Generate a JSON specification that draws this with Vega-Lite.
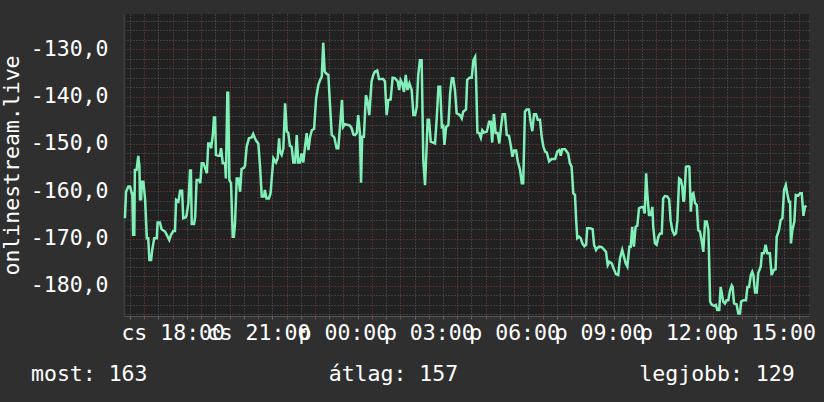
{
  "$schema": "https://vega.github.io/schema/vega-lite/v6.json",
  "width": 685,
  "height": 302,
  "autosize": {"type": "none"},
  "padding": {"left": 124, "top": 14, "right": 15, "bottom": 86},
  "background": "#2f2f2f",
  "view": {"fill": "#212121", "stroke": null},
  "config": {"font": "DejaVu Sans Mono"},
  "title": {
    "text": "most: 163\u00a0\u00a0\u00a0\u00a0\u00a0\u00a0\u00a0\u00a0\u00a0\u00a0\u00a0\u00a0\u00a0\u00a0átlag: 157\u00a0\u00a0\u00a0\u00a0\u00a0\u00a0\u00a0\u00a0\u00a0\u00a0\u00a0\u00a0\u00a0\u00a0legjobb: 129",
    "orient": "bottom",
    "anchor": "start",
    "frame": "group",
    "baseline": "top",
    "offset": 20,
    "dx": -93,
    "font": "DejaVu Sans Mono",
    "fontSize": 21.5,
    "fontWeight": "normal",
    "color": "#ffffff"
  },
  "data": {"values": [
    {"h":16.32,"v":-165.7},{"h":16.36,"v":-160.1},{"h":16.44,"v":-159.0},{"h":16.50,"v":-159.0},{"h":16.56,"v":-160.4},{"h":16.58,"v":-160.4},{"h":16.61,"v":-169.2},{"h":16.65,"v":-169.2},{"h":16.67,"v":-155.5},{"h":16.73,"v":-155.5},
    {"h":16.79,"v":-152.5},{"h":16.83,"v":-154.8},{"h":16.85,"v":-161.7},{"h":16.89,"v":-161.7},{"h":16.91,"v":-158.0},{"h":16.97,"v":-158.0},{"h":17.03,"v":-161.7},{"h":17.09,"v":-169.9},{"h":17.14,"v":-169.9},{"h":17.18,"v":-174.5},
    {"h":17.24,"v":-174.5},{"h":17.28,"v":-172.4},{"h":17.35,"v":-169.9},{"h":17.44,"v":-169.9},{"h":17.47,"v":-166.6},{"h":17.55,"v":-166.6},{"h":17.61,"v":-168.0},{"h":17.73,"v":-168.5},{"h":17.79,"v":-169.2},{"h":17.88,"v":-170.3},
    {"h":17.94,"v":-169.2},{"h":18.02,"v":-168.4},{"h":18.08,"v":-168.4},{"h":18.12,"v":-161.8},{"h":18.20,"v":-162.2},{"h":18.26,"v":-159.9},{"h":18.33,"v":-159.9},{"h":18.37,"v":-165.7},{"h":18.46,"v":-165.5},{"h":18.49,"v":-165.0},
    {"h":18.55,"v":-162.5},{"h":18.61,"v":-155.6},{"h":18.64,"v":-155.6},{"h":18.67,"v":-166.9},{"h":18.75,"v":-166.9},{"h":18.79,"v":-165.4},{"h":18.84,"v":-157.6},{"h":18.93,"v":-157.6},{"h":18.97,"v":-158.3},{"h":19.02,"v":-154.1},
    {"h":19.08,"v":-154.1},{"h":19.14,"v":-155.1},{"h":19.20,"v":-156.2},{"h":19.25,"v":-149.9},{"h":19.31,"v":-149.9},{"h":19.35,"v":-150.9},{"h":19.41,"v":-148.1},{"h":19.45,"v":-144.4},{"h":19.49,"v":-144.4},{"h":19.52,"v":-152.3},
    {"h":19.60,"v":-152.5},{"h":19.66,"v":-152.5},{"h":19.70,"v":-150.9},{"h":19.76,"v":-154.1},{"h":19.84,"v":-154.1},{"h":19.87,"v":-157.3},{"h":19.92,"v":-139.2},{"h":19.95,"v":-139.2},{"h":19.99,"v":-157.6},{"h":20.05,"v":-158.3},
    {"h":20.11,"v":-169.6},{"h":20.15,"v":-169.6},{"h":20.19,"v":-166.8},{"h":20.25,"v":-157.3},{"h":20.31,"v":-157.3},{"h":20.37,"v":-160.1},{"h":20.42,"v":-155.3},{"h":20.51,"v":-155.0},{"h":20.54,"v":-154.6},{"h":20.60,"v":-150.6},
    {"h":20.68,"v":-148.8},{"h":20.78,"v":-148.6},{"h":20.83,"v":-147.9},{"h":20.89,"v":-148.8},{"h":20.95,"v":-149.5},{"h":21.01,"v":-149.9},{"h":21.07,"v":-154.8},{"h":21.13,"v":-161.1},{"h":21.21,"v":-161.1},{"h":21.24,"v":-159.7},
    {"h":21.30,"v":-161.5},{"h":21.38,"v":-161.5},{"h":21.44,"v":-160.4},{"h":21.48,"v":-157.3},{"h":21.54,"v":-153.0},{"h":21.63,"v":-153.9},{"h":21.69,"v":-153.0},{"h":21.74,"v":-148.8},{"h":21.77,"v":-151.6},{"h":21.83,"v":-152.3},
    {"h":21.89,"v":-150.9},{"h":21.95,"v":-141.4},{"h":22.01,"v":-147.4},{"h":22.06,"v":-147.6},{"h":22.12,"v":-150.4},{"h":22.18,"v":-150.6},{"h":22.24,"v":-153.9},{"h":22.30,"v":-153.9},{"h":22.36,"v":-148.1},{"h":22.41,"v":-153.9},
    {"h":22.47,"v":-153.9},{"h":22.53,"v":-152.0},{"h":22.59,"v":-153.9},{"h":22.65,"v":-150.6},{"h":22.71,"v":-147.7},{"h":22.77,"v":-151.3},{"h":22.83,"v":-148.5},{"h":22.89,"v":-147.1},{"h":22.97,"v":-146.8},{"h":23.04,"v":-140.4},
    {"h":23.12,"v":-137.5},{"h":23.18,"v":-136.5},{"h":23.24,"v":-135.8},{"h":23.29,"v":-128.6},{"h":23.34,"v":-134.7},{"h":23.41,"v":-135.2},{"h":23.47,"v":-135.4},{"h":23.53,"v":-141.8},{"h":23.59,"v":-148.1},{"h":23.68,"v":-148.6},
    {"h":23.76,"v":-150.9},{"h":23.82,"v":-150.9},{"h":23.88,"v":-146.4},{"h":23.95,"v":-140.7},{"h":23.99,"v":-146.4},{"h":24.06,"v":-145.8},{"h":24.23,"v":-146.1},{"h":24.29,"v":-146.7},{"h":24.35,"v":-148.0},{"h":24.41,"v":-148.1},
    {"h":24.47,"v":-147.7},{"h":24.52,"v":-143.9},{"h":24.58,"v":-147.7},{"h":24.62,"v":-158.2},{"h":24.66,"v":-148.5},{"h":24.72,"v":-148.5},{"h":24.79,"v":-139.7},{"h":24.84,"v":-140.7},{"h":24.91,"v":-143.9},{"h":24.99,"v":-136.8},
    {"h":25.05,"v":-135.4},{"h":25.11,"v":-134.7},{"h":25.19,"v":-134.5},{"h":25.25,"v":-136.3},{"h":25.40,"v":-136.3},{"h":25.46,"v":-136.8},{"h":25.52,"v":-143.9},{"h":25.58,"v":-140.7},{"h":25.66,"v":-140.6},{"h":25.73,"v":-136.0},
    {"h":25.81,"v":-136.1},{"h":25.91,"v":-136.8},{"h":25.96,"v":-138.6},{"h":26.01,"v":-136.5},{"h":26.07,"v":-137.2},{"h":26.13,"v":-139.0},{"h":26.19,"v":-135.4},{"h":26.25,"v":-138.6},{"h":26.32,"v":-137.2},{"h":26.40,"v":-138.6},
    {"h":26.46,"v":-143.9},{"h":26.52,"v":-143.9},{"h":26.58,"v":-142.1},{"h":26.63,"v":-135.4},{"h":26.69,"v":-132.3},{"h":26.75,"v":-132.3},{"h":26.81,"v":-153.7},{"h":26.87,"v":-158.7},{"h":26.93,"v":-149.9},{"h":26.96,"v":-144.9},
    {"h":27.01,"v":-144.9},{"h":27.07,"v":-149.5},{"h":27.22,"v":-149.9},{"h":27.28,"v":-144.6},{"h":27.34,"v":-137.9},{"h":27.40,"v":-137.9},{"h":27.46,"v":-146.4},{"h":27.51,"v":-146.2},{"h":27.55,"v":-150.2},{"h":27.61,"v":-146.4},
    {"h":27.69,"v":-146.0},{"h":27.75,"v":-139.3},{"h":27.81,"v":-136.1},{"h":27.86,"v":-136.1},{"h":27.92,"v":-138.6},{"h":27.98,"v":-143.5},{"h":28.10,"v":-143.9},{"h":28.16,"v":-144.6},{"h":28.21,"v":-143.2},{"h":28.31,"v":-142.7},
    {"h":28.35,"v":-136.5},{"h":28.43,"v":-136.0},{"h":28.51,"v":-136.0},{"h":28.57,"v":-132.3},{"h":28.63,"v":-131.6},{"h":28.66,"v":-135.4},{"h":28.71,"v":-147.6},{"h":28.77,"v":-147.7},{"h":28.83,"v":-148.7},{"h":28.88,"v":-147.1},
    {"h":28.94,"v":-147.6},{"h":29.04,"v":-147.4},{"h":29.12,"v":-145.3},{"h":29.18,"v":-145.3},{"h":29.23,"v":-149.7},{"h":29.29,"v":-143.7},{"h":29.35,"v":-147.7},{"h":29.42,"v":-147.7},{"h":29.48,"v":-149.9},{"h":29.54,"v":-146.4},
    {"h":29.60,"v":-143.7},{"h":29.68,"v":-143.7},{"h":29.74,"v":-148.1},{"h":29.82,"v":-148.3},{"h":29.88,"v":-150.2},{"h":29.94,"v":-152.7},{"h":30.00,"v":-151.4},{"h":30.07,"v":-151.4},{"h":30.13,"v":-153.7},{"h":30.21,"v":-155.5},
    {"h":30.27,"v":-158.3},{"h":30.32,"v":-158.3},{"h":30.38,"v":-143.2},{"h":30.44,"v":-142.7},{"h":30.52,"v":-142.7},{"h":30.58,"v":-145.3},{"h":30.64,"v":-147.3},{"h":30.70,"v":-143.7},{"h":30.77,"v":-143.7},{"h":30.83,"v":-144.9},
    {"h":30.91,"v":-144.9},{"h":30.97,"v":-148.5},{"h":31.03,"v":-150.6},{"h":31.09,"v":-151.6},{"h":31.15,"v":-151.8},{"h":31.23,"v":-153.7},{"h":31.32,"v":-153.2},{"h":31.44,"v":-153.2},{"h":31.52,"v":-151.6},{"h":31.59,"v":-151.3},
    {"h":31.64,"v":-152.5},{"h":31.69,"v":-151.1},{"h":31.79,"v":-151.1},{"h":31.85,"v":-151.6},{"h":31.90,"v":-152.0},{"h":31.96,"v":-154.1},{"h":32.02,"v":-154.8},{"h":32.08,"v":-160.4},{"h":32.14,"v":-160.8},{"h":32.18,"v":-166.1},
    {"h":32.22,"v":-169.9},{"h":32.28,"v":-169.6},{"h":32.34,"v":-169.9},{"h":32.40,"v":-171.0},{"h":32.47,"v":-171.6},{"h":32.53,"v":-171.3},{"h":32.57,"v":-167.8},{"h":32.67,"v":-167.8},{"h":32.76,"v":-168.0},{"h":32.81,"v":-171.3},
    {"h":32.88,"v":-172.4},{"h":32.92,"v":-172.0},{"h":32.99,"v":-171.7},{"h":33.08,"v":-171.8},{"h":33.16,"v":-172.3},{"h":33.23,"v":-172.8},{"h":33.29,"v":-175.6},{"h":33.35,"v":-174.9},{"h":33.43,"v":-175.2},{"h":33.51,"v":-176.5},
    {"h":33.58,"v":-177.5},{"h":33.66,"v":-177.7},{"h":33.72,"v":-174.2},{"h":33.80,"v":-172.4},{"h":33.86,"v":-173.8},{"h":33.92,"v":-175.2},{"h":33.98,"v":-175.9},{"h":34.05,"v":-171.7},{"h":34.10,"v":-171.7},{"h":34.15,"v":-167.5},
    {"h":34.21,"v":-171.7},{"h":34.27,"v":-167.5},{"h":34.33,"v":-167.3},{"h":34.39,"v":-163.6},{"h":34.48,"v":-163.3},{"h":34.54,"v":-163.3},{"h":34.59,"v":-164.7},{"h":34.64,"v":-156.2},{"h":34.68,"v":-160.4},{"h":34.74,"v":-165.0},
    {"h":34.80,"v":-165.0},{"h":34.86,"v":-163.3},{"h":34.89,"v":-167.5},{"h":34.95,"v":-171.0},{"h":35.01,"v":-171.3},{"h":35.07,"v":-169.6},{"h":35.13,"v":-168.9},{"h":35.19,"v":-168.9},{"h":35.24,"v":-161.5},{"h":35.30,"v":-161.0},
    {"h":35.38,"v":-161.1},{"h":35.45,"v":-161.7},{"h":35.50,"v":-166.1},{"h":35.56,"v":-168.2},{"h":35.63,"v":-169.2},{"h":35.69,"v":-168.9},{"h":35.74,"v":-166.1},{"h":35.80,"v":-157.3},{"h":35.86,"v":-157.6},{"h":35.91,"v":-159.0},
    {"h":35.95,"v":-162.2},{"h":35.98,"v":-161.8},{"h":36.04,"v":-154.8},{"h":36.12,"v":-154.7},{"h":36.16,"v":-154.8},{"h":36.21,"v":-164.3},{"h":36.26,"v":-160.6},{"h":36.30,"v":-160.4},{"h":36.36,"v":-162.5},{"h":36.42,"v":-162.9},
    {"h":36.47,"v":-168.2},{"h":36.53,"v":-168.5},{"h":36.59,"v":-170.3},{"h":36.65,"v":-172.8},{"h":36.71,"v":-166.4},{"h":36.77,"v":-166.4},{"h":36.83,"v":-168.2},{"h":36.89,"v":-183.3},{"h":36.95,"v":-184.0},{"h":37.03,"v":-184.2},
    {"h":37.09,"v":-184.0},{"h":37.14,"v":-185.1},{"h":37.21,"v":-185.1},{"h":37.26,"v":-180.2},{"h":37.31,"v":-181.9},{"h":37.35,"v":-183.3},{"h":37.41,"v":-183.7},{"h":37.47,"v":-183.0},{"h":37.53,"v":-183.0},{"h":37.59,"v":-180.9},
    {"h":37.65,"v":-179.9},{"h":37.68,"v":-180.2},{"h":37.73,"v":-183.7},{"h":37.82,"v":-183.9},{"h":37.88,"v":-185.8},{"h":37.94,"v":-185.8},{"h":37.98,"v":-183.3},{"h":38.06,"v":-183.0},{"h":38.15,"v":-183.0},{"h":38.20,"v":-180.2},
    {"h":38.26,"v":-180.2},{"h":38.32,"v":-177.7},{"h":38.37,"v":-177.0},{"h":38.41,"v":-177.7},{"h":38.47,"v":-181.4},{"h":38.53,"v":-181.4},{"h":38.58,"v":-177.3},{"h":38.67,"v":-175.9},{"h":38.71,"v":-173.1},{"h":38.78,"v":-173.1},
    {"h":38.84,"v":-171.3},{"h":38.90,"v":-173.1},{"h":38.99,"v":-173.1},{"h":39.05,"v":-177.7},{"h":39.13,"v":-176.6},{"h":39.19,"v":-176.5},{"h":39.23,"v":-169.6},{"h":39.31,"v":-168.2},{"h":39.37,"v":-166.1},{"h":39.43,"v":-165.7},
    {"h":39.49,"v":-159.7},{"h":39.55,"v":-158.7},{"h":39.60,"v":-160.4},{"h":39.66,"v":-162.2},{"h":39.70,"v":-162.2},{"h":39.73,"v":-171.0},{"h":39.78,"v":-168.2},{"h":39.85,"v":-166.4},{"h":39.90,"v":-160.8},{"h":39.99,"v":-160.9},
    {"h":40.05,"v":-160.4},{"h":40.11,"v":-160.4},{"h":40.17,"v":-165.2},{"h":40.22,"v":-163.3},{"h":40.28,"v":-163.1}
  ]},
  "mark": {"type": "line", "color": "#80f0b8", "strokeWidth": 2.5},
  "encoding": {
    "x": {
      "field": "h", "type": "quantitative",
      "scale": {"domain": [16.288, 40.365], "nice": false, "zero": false},
      "axis": {
        "title": null,
        "values": [16.5,17,17.5,18,18.5,19,19.5,20,20.5,21,21.5,22,22.5,23,23.5,24,24.5,25,25.5,26,26.5,27,27.5,28,28.5,29,29.5,30,30.5,31,31.5,32,32.5,33,33.5,34,34.5,35,35.5,36,36.5,37,37.5,38,38.5,39,39.5,40],
        "grid": true,
        "gridColor": {"condition": {"test": "datum.value % 1 === 0", "value": "#8c3a3a"}, "value": "#5e5e5e"},
        "gridDash": [1, 2],
        "gridWidth": 1,
        "ticks": true,
        "tickSize": 3,
        "tickColor": {"condition": {"test": "datum.value % 1 === 0", "value": "#9a3c3c"}, "value": "#666666"},
        "domain": true,
        "domainColor": "#555555",
        "labelExpr": "datum.value % 3 === 0 ? (datum.value < 24 ? 'cs ' : 'p ') + (datum.value % 24 < 10 ? '0' : '') + (datum.value % 24) + ':00' : ''",
        "labelFont": "DejaVu Sans Mono",
        "labelFontSize": 21.5,
        "labelColor": "#ffffff",
        "labelPadding": 3.5,
        "labelOverlap": false,
        "labelFlush": false,
        "labelBound": false
      }
    },
    "y": {
      "field": "v", "type": "quantitative",
      "scale": {"domain": [-186.35, -122.54], "nice": false, "zero": false},
      "axis": {
        "title": "onlinestream.live",
        "values": [-186,-184,-182,-180,-178,-176,-174,-172,-170,-168,-166,-164,-162,-160,-158,-156,-154,-152,-150,-148,-146,-144,-142,-140,-138,-136,-134,-132,-130,-128,-126,-124],
        "grid": true,
        "gridColor": {"condition": {"test": "datum.value % 10 === 0", "value": "#8c3a3a"}, "value": "#5e5e5e"},
        "gridDash": [1, 2],
        "gridWidth": 1,
        "ticks": false,
        "domain": true,
        "domainColor": "#3a3a3a",
        "domainWidth": 2,
        "labelExpr": "datum.value % 10 === 0 ? '-' + abs(datum.value) + ',0' : ''",
        "labelFont": "DejaVu Sans Mono",
        "labelFontSize": 21.5,
        "labelColor": "#ffffff",
        "labelPadding": 16,
        "labelOverlap": false,
        "labelFlush": false,
        "labelBound": false,
        "titleFont": "DejaVu Sans Mono",
        "titleFontSize": 21.5,
        "titleFontWeight": "normal",
        "titleColor": "#ffffff",
        "titleBaseline": "alphabetic",
        "titlePadding": 12
      }
    }
  }
}
